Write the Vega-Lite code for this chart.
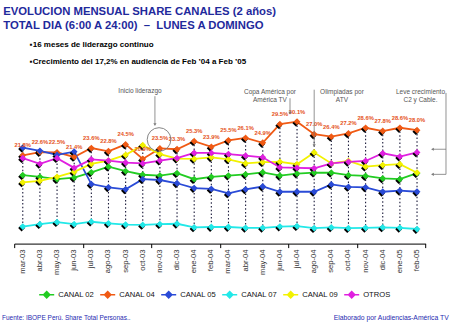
{
  "$schema": "https://vega.github.io/schema/vega-lite/v6.json",
  "autosize": {"type": "none"},
  "width": 411.4,
  "height": 121.5,
  "padding": {"left": 14.2, "top": 122.1, "right": 24.4, "bottom": 81.4},
  "background": "white",
  "config": {"view": {"stroke": null}, "font": "Liberation Sans"},
  "title": {
    "text": ["EVOLUCION MENSUAL SHARE CANALES (2 años)", "TOTAL DIA (6:00 A 24:00)\u00a0\u00a0–\u00a0\u00a0LUNES A DOMINGO"],
    "subtitle": ["\u200b\u00a0\u00a0\u00a0\u00a0\u00a0\u00a0\u00a0\u00a0\u00a0\u00a0\u00a0\u00a0▪16 meses de liderazgo continuo", "\u200b\u00a0\u00a0\u00a0\u00a0\u00a0\u00a0\u00a0\u00a0\u00a0\u00a0\u00a0\u00a0▪Crecimiento del 17,2% en audiencia de Feb ’04 a Feb ’05"],
    "anchor": "start",
    "frame": "group",
    "dx": -11,
    "offset": 22,
    "font": "Liberation Sans",
    "fontSize": 11.3,
    "fontWeight": "bold",
    "color": "#1f2a9c",
    "lineHeight": 13.7,
    "subtitleFont": "Liberation Sans",
    "subtitleFontSize": 8,
    "subtitleFontWeight": "bold",
    "subtitleColor": "#000000",
    "subtitleLineHeight": 17,
    "subtitlePadding": 10
  },
  "datasets": {
    "share": [
    {"mes": "mar-03", "i": 0, "CANAL 02": 16.9, "CANAL 04": 21.8, "CANAL 05": 23.7, "CANAL 07": 4.2, "CANAL 09": 15.1, "OTROS": 21.1},
    {"mes": "abr-03", "i": 1, "CANAL 02": 16.5, "CANAL 04": 22.6, "CANAL 05": 22.9, "CANAL 07": 4.8, "CANAL 09": 15.5, "OTROS": 19.7},
    {"mes": "may-03", "i": 2, "CANAL 02": 15.9, "CANAL 04": 22.5, "CANAL 05": 21.9, "CANAL 07": 5.3, "CANAL 09": 16.5, "OTROS": 21.1},
    {"mes": "jun-03", "i": 3, "CANAL 02": 16.3, "CANAL 04": 21.4, "CANAL 05": 22.7, "CANAL 07": 4.8, "CANAL 09": 17.7, "OTROS": 18.7},
    {"mes": "jul-03", "i": 4, "CANAL 02": 17.6, "CANAL 04": 23.6, "CANAL 05": 14.7, "CANAL 07": 5.4, "CANAL 09": 19.7, "OTROS": 20.8},
    {"mes": "ago-03", "i": 5, "CANAL 02": 19.0, "CANAL 04": 22.8, "CANAL 05": 13.9, "CANAL 07": 5.0, "CANAL 09": 20.5, "OTROS": 20.5},
    {"mes": "sep-03", "i": 6, "CANAL 02": 17.9, "CANAL 04": 24.5, "CANAL 05": 13.4, "CANAL 07": 4.7, "CANAL 09": 21.9, "OTROS": 20.0},
    {"mes": "oct-03", "i": 7, "CANAL 02": 17.0, "CANAL 04": 20.9, "CANAL 05": 15.9, "CANAL 07": 4.6, "CANAL 09": 24.3, "OTROS": 19.8},
    {"mes": "nov-03", "i": 8, "CANAL 02": 16.8, "CANAL 04": 23.5, "CANAL 05": 15.7, "CANAL 07": 4.8, "CANAL 09": 22.1, "OTROS": 20.5},
    {"mes": "dic-03", "i": 9, "CANAL 02": 17.4, "CANAL 04": 23.3, "CANAL 05": 14.9, "CANAL 07": 4.9, "CANAL 09": 21.0, "OTROS": 21.1},
    {"mes": "ene-04", "i": 10, "CANAL 02": 15.9, "CANAL 04": 25.3, "CANAL 05": 13.7, "CANAL 07": 4.0, "CANAL 09": 20.9, "OTROS": 22.4},
    {"mes": "feb-04", "i": 11, "CANAL 02": 16.5, "CANAL 04": 23.9, "CANAL 05": 13.5, "CANAL 07": 4.1, "CANAL 09": 21.3, "OTROS": 22.4},
    {"mes": "mar-04", "i": 12, "CANAL 02": 16.8, "CANAL 04": 25.5, "CANAL 05": 12.4, "CANAL 07": 4.1, "CANAL 09": 20.8, "OTROS": 22.1},
    {"mes": "abr-04", "i": 13, "CANAL 02": 17.1, "CANAL 04": 26.1, "CANAL 05": 13.4, "CANAL 07": 3.9, "CANAL 09": 19.8, "OTROS": 21.7},
    {"mes": "may-04", "i": 14, "CANAL 02": 17.6, "CANAL 04": 24.9, "CANAL 05": 14.1, "CANAL 07": 3.9, "CANAL 09": 20.1, "OTROS": 21.3},
    {"mes": "jun-04", "i": 15, "CANAL 02": 16.8, "CANAL 04": 29.5, "CANAL 05": 12.8, "CANAL 07": 4.2, "CANAL 09": 20.2, "OTROS": 18.8},
    {"mes": "jul-04", "i": 16, "CANAL 02": 17.3, "CANAL 04": 30.1, "CANAL 05": 12.8, "CANAL 07": 4.3, "CANAL 09": 19.6, "OTROS": 18.7},
    {"mes": "ago-04", "i": 17, "CANAL 02": 17.5, "CANAL 04": 27.0, "CANAL 05": 12.8, "CANAL 07": 3.8, "CANAL 09": 22.5, "OTROS": 18.6},
    {"mes": "sep-04", "i": 18, "CANAL 02": 17.5, "CANAL 04": 26.4, "CANAL 05": 14.6, "CANAL 07": 4.0, "CANAL 09": 19.8, "OTROS": 19.8},
    {"mes": "oct-04", "i": 19, "CANAL 02": 16.9, "CANAL 04": 27.2, "CANAL 05": 14.0, "CANAL 07": 3.8, "CANAL 09": 20.4, "OTROS": 20.2},
    {"mes": "nov-04", "i": 20, "CANAL 02": 16.7, "CANAL 04": 28.6, "CANAL 05": 13.9, "CANAL 07": 3.9, "CANAL 09": 19.0, "OTROS": 20.4},
    {"mes": "dic-04", "i": 21, "CANAL 02": 16.1, "CANAL 04": 27.8, "CANAL 05": 12.8, "CANAL 07": 4.0, "CANAL 09": 19.4, "OTROS": 22.3},
    {"mes": "ene-05", "i": 22, "CANAL 02": 15.9, "CANAL 04": 28.6, "CANAL 05": 13.1, "CANAL 07": 3.9, "CANAL 09": 19.6, "OTROS": 21.5},
    {"mes": "feb-05", "i": 23, "CANAL 02": 17.4, "CANAL 04": 28.0, "CANAL 05": 12.8, "CANAL 07": 3.6, "CANAL 09": 17.5, "OTROS": 22.5}
  ]},
  "data": {"name": "share"},
  "layer": [
    {
      "transform": [{"fold": ["CANAL 02", "CANAL 04", "CANAL 05", "CANAL 07", "CANAL 09", "OTROS"], "as": ["canal", "share"]}],
      "mark": {"type": "rule", "color": "#1a1a3a", "strokeDash": [1.5, 2.2], "strokeWidth": 1.1},
      "encoding": {
        "x": {"field": "i", "type": "quantitative", "scale": {"domain": [-0.5, 23.5], "nice": false, "zero": false},
          "axis": {"values": [-0.5, 0.5, 1.5, 2.5, 3.5, 4.5, 5.5, 6.5, 7.5, 8.5, 9.5, 10.5, 11.5, 12.5, 13.5, 14.5, 15.5, 16.5, 17.5, 18.5, 19.5, 20.5, 21.5, 22.5, 23.5],
            "labels": false, "title": null, "grid": false, "domainColor": "#000000", "tickColor": "#000000", "tickSize": 4, "domainWidth": 1}},
        "y": {"aggregate": "max", "field": "share", "type": "quantitative", "scale": {"domain": [0, 30], "nice": false}, "axis": null},
        "y2": {"aggregate": "min", "field": "share"}
      }
    },
    {
      "transform": [{"fold": ["CANAL 02", "CANAL 04", "CANAL 05", "CANAL 07", "CANAL 09", "OTROS"], "as": ["canal", "share"]}],
      "encoding": {"x": {"field": "i", "type": "quantitative"}},
      "layer": [
        {
          "mark": {"type": "line", "strokeWidth": 1.8},
          "encoding": {
            "y": {"field": "share", "type": "quantitative"},
            "color": {"field": "canal", "type": "nominal",
              "scale": {"domain": ["CANAL 02", "CANAL 04", "CANAL 05", "CANAL 07", "CANAL 09", "OTROS"],
                "range": ["#22cc22", "#f05a14", "#2a4bd7", "#22e8e8", "#f2f200", "#e020e0"]},
              "legend": {"orient": "none", "legendX": 24, "legendY": 164, "direction": "horizontal", "title": null,
                "symbolType": "M-1,0H1M0,-0.42L0.42,0L0,0.42L-0.42,0Z", "symbolSize": 225, "symbolStrokeWidth": 1.5,
                "labelFont": "Liberation Sans", "labelFontSize": 7.6, "labelColor": "#111111", "labelOffset": 3, "columnPadding": 3,
                "encode": {"symbols": {"update": {"fill": {"scale": "color", "field": "value"}, "stroke": {"scale": "color", "field": "value"}, "opacity": {"value": 1}}}}}
            }
          }
        },
        {
          "mark": {"type": "point", "shape": "diamond", "filled": true, "size": 46, "opacity": 1, "color": "#000000", "xOffset": -1.2, "yOffset": 1.5},
          "encoding": {"y": {"field": "share", "type": "quantitative"}, "detail": {"field": "canal"}}
        },
        {
          "mark": {"type": "point", "shape": "diamond", "filled": true, "size": 46, "opacity": 1},
          "encoding": {"y": {"field": "share", "type": "quantitative"}, "color": {"field": "canal", "type": "nominal"}}
        }
      ]
    },
    {
      "transform": [{"calculate": "format(datum['CANAL 04'], '.1f') + '%'", "as": "lbl"}],
      "mark": {"type": "text", "color": "#e5521a", "fontSize": 5.8, "fontWeight": "bold", "dy": -10},
      "encoding": {"x": {"field": "i", "type": "quantitative"}, "y": {"field": "CANAL 04", "type": "quantitative"}, "text": {"field": "lbl"}}
    },
    {
      "mark": {"type": "text", "angle": 270, "align": "right", "baseline": "middle", "dx": -6, "fontSize": 7.6, "color": "#333333"},
      "encoding": {"x": {"field": "i", "type": "quantitative"}, "y": {"datum": 0}, "text": {"field": "mes"}}
    },
    {
      "data": {"values": [{"k": 1}]},
      "layer": [
        {"mark": {"type": "text", "text": "Inicio liderazgo", "fontSize": 6.5, "color": "#555555"},
         "encoding": {"x": {"datum": 6.84}, "y": {"datum": 37.7}}},
        {"mark": {"type": "text", "text": ["Copa América por", "América TV"], "fontSize": 6.5, "color": "#555555", "lineHeight": 7.5},
         "encoding": {"x": {"datum": 14.42}, "y": {"datum": 37.4}}},
        {"mark": {"type": "text", "text": ["Olimpiadas por", "ATV"], "fontSize": 6.5, "color": "#555555", "lineHeight": 7.5},
         "encoding": {"x": {"datum": 18.62}, "y": {"datum": 37.4}}},
        {"mark": {"type": "text", "text": ["Leve crecimiento", "C2 y Cable."], "fontSize": 6.5, "color": "#555555", "lineHeight": 7.5},
         "encoding": {"x": {"datum": 23.2}, "y": {"datum": 37.4}}},
        {"mark": {"type": "rule", "color": "#777777", "strokeWidth": 0.8},
         "encoding": {"x": {"datum": 7.71}, "y": {"datum": 36.4}, "y2": {"datum": 29.6}}},
        {"mark": {"type": "rule", "color": "#777777", "strokeWidth": 0.8},
         "encoding": {"x": {"datum": 15.59}, "y": {"datum": 35.9}, "y2": {"datum": 32.4}}},
        {"mark": {"type": "rule", "color": "#777777", "strokeWidth": 0.8},
         "encoding": {"x": {"datum": 17}, "y": {"datum": 38.0}, "y2": {"datum": 24.4}}},
        {"mark": {"type": "rule", "color": "#777777", "strokeWidth": 0.8},
         "encoding": {"x": {"datum": 24.69}, "y": {"datum": 37.2}, "y2": {"datum": 17.1}}},
        {"mark": {"type": "rule", "color": "#777777", "strokeWidth": 0.8},
         "encoding": {"x": {"datum": 23.95}, "x2": {"datum": 24.69}, "y": {"datum": 23.3}}},
        {"mark": {"type": "rule", "color": "#777777", "strokeWidth": 0.8},
         "encoding": {"x": {"datum": 23.95}, "x2": {"datum": 24.69}, "y": {"datum": 17.1}}},
        {"mark": {"type": "point", "shape": "triangle-down", "filled": true, "size": 10, "color": "#777777", "opacity": 1},
         "encoding": {"x": {"datum": 7.71}, "y": {"datum": 29.4}}},
        {"mark": {"type": "point", "shape": "triangle-down", "filled": true, "size": 10, "color": "#777777", "opacity": 1},
         "encoding": {"x": {"datum": 15.59}, "y": {"datum": 32.2}}},
        {"mark": {"type": "point", "shape": "triangle-down", "filled": true, "size": 10, "color": "#777777", "opacity": 1},
         "encoding": {"x": {"datum": 17}, "y": {"datum": 24.2}}},
        {"mark": {"type": "point", "shape": "triangle-left", "filled": true, "size": 10, "color": "#777777", "opacity": 1},
         "encoding": {"x": {"datum": 23.9}, "y": {"datum": 23.3}}},
        {"mark": {"type": "point", "shape": "triangle-left", "filled": true, "size": 10, "color": "#777777", "opacity": 1},
         "encoding": {"x": {"datum": 23.9}, "y": {"datum": 17.1}}},
        {"mark": {"type": "point", "shape": "circle", "filled": false, "size": 560, "color": "#777777", "strokeWidth": 0.9, "opacity": 1},
         "encoding": {"x": {"datum": 7.95}, "y": {"datum": 25.7}}},
        {"mark": {"type": "text", "text": "Fuente: IBOPE Perú. Share Total Personas..", "fontSize": 6.5, "color": "#1f2ab0", "align": "left"},
         "encoding": {"x": {"datum": -1.21}, "y": {"datum": -18.4}}},
        {"mark": {"type": "text", "text": "Elaborado por Audiencias-América TV", "fontSize": 6.8, "color": "#1f2ab0", "align": "right"},
         "encoding": {"x": {"datum": 24.85}, "y": {"datum": -18.4}}}
      ]
    }
  ]
}
